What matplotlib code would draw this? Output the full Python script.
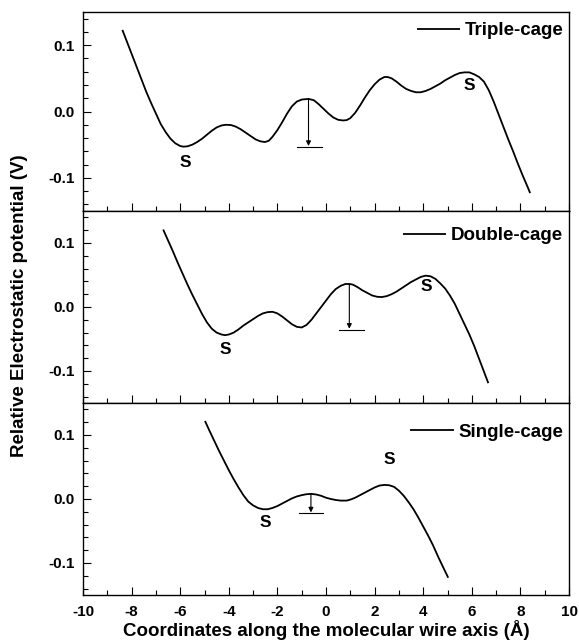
import matplotlib.pyplot as plt
from matplotlib.ticker import MultipleLocator, FormatStrFormatter

plt.rcParams['font.family'] = ['Liberation Sans', 'DejaVu Sans']
plt.rcParams['font.weight'] = 'bold'
plt.rcParams['axes.unicode_minus'] = False

# curves (x in Angstrom, potential in V)
triple_x = [-8.38, -8.2, -8.0, -7.8, -7.6, -7.4, -7.2, -7.0, -6.8, -6.6,
            -6.4, -6.2, -6.0, -5.87, -5.7, -5.5, -5.3, -5.1, -4.9, -4.7,
            -4.5, -4.3, -4.1, -3.9, -3.7, -3.5, -3.3, -3.1, -2.9, -2.7,
            -2.51, -2.35, -2.2, -2.0, -1.8, -1.6, -1.4, -1.2, -1.0, -0.72,
            -0.5, -0.3, -0.1, 0.1, 0.3, 0.5, 0.7, 0.85, 1.0, 1.2,
            1.4, 1.6, 1.8, 2.0, 2.2, 2.4, 2.54, 2.7, 2.9, 3.1,
            3.3, 3.5, 3.7, 3.9, 4.1, 4.3, 4.5, 4.7, 4.9, 5.1,
            5.3, 5.5, 5.7, 5.9, 6.1, 6.3, 6.5, 6.7, 6.9, 7.1,
            7.3, 7.5, 7.7, 7.9, 8.1, 8.3, 8.40]
triple_y = [0.123, 0.106, 0.087, 0.068, 0.049, 0.030, 0.013, -0.003, -0.019, -0.031,
            -0.041, -0.048, -0.052, -0.053, -0.0525, -0.050, -0.046, -0.041, -0.035, -0.029,
            -0.024, -0.021, -0.020, -0.0205, -0.023, -0.027, -0.032, -0.037, -0.042, -0.045,
            -0.046, -0.044, -0.038, -0.028, -0.016, -0.003, 0.008, 0.015, 0.018, 0.019,
            0.017, 0.011, 0.004, -0.003, -0.009, -0.0125, -0.0135, -0.013, -0.010, -0.002,
            0.009, 0.021, 0.032, 0.041, 0.048, 0.052, 0.052, 0.050, 0.045, 0.039,
            0.034, 0.031, 0.029, 0.029, 0.031, 0.034, 0.038, 0.042, 0.047, 0.051,
            0.055, 0.058, 0.059, 0.059, 0.056, 0.052, 0.045, 0.032, 0.015, -0.004,
            -0.023, -0.042, -0.060, -0.079, -0.097, -0.114, -0.123]

double_x = [-6.70, -6.5, -6.3, -6.1, -5.9, -5.7, -5.5, -5.3, -5.1, -4.9,
            -4.7, -4.5, -4.3, -4.16, -4.0, -3.8, -3.6, -3.4, -3.2, -3.0,
            -2.8, -2.6, -2.4, -2.2, -2.0, -1.8, -1.6, -1.4, -1.2, -1.0,
            -0.8, -0.6, -0.4, -0.2, 0.0, 0.2, 0.4, 0.6, 0.8, 0.96,
            1.1, 1.3, 1.5, 1.7, 1.9, 2.1, 2.3, 2.5, 2.7, 2.9,
            3.1, 3.3, 3.5, 3.7, 3.9, 4.1, 4.3, 4.5, 4.7, 4.9,
            5.1, 5.3, 5.5, 5.7, 5.9, 6.1, 6.3, 6.5, 6.68]
double_y = [0.121, 0.104, 0.087, 0.069, 0.052, 0.035, 0.019, 0.004, -0.011, -0.024,
            -0.034, -0.040, -0.043, -0.044, -0.043, -0.040, -0.035, -0.029, -0.024, -0.019,
            -0.014, -0.010, -0.008, -0.0075, -0.010, -0.015, -0.021, -0.027, -0.031, -0.032,
            -0.028, -0.020, -0.010, 0.000, 0.010, 0.020, 0.028, 0.033, 0.036, 0.036,
            0.035, 0.031, 0.026, 0.022, 0.018, 0.016, 0.0155, 0.017, 0.020, 0.024,
            0.029, 0.034, 0.039, 0.043, 0.047, 0.049, 0.048, 0.044, 0.037, 0.029,
            0.018, 0.005, -0.011, -0.027, -0.043, -0.061, -0.081, -0.101, -0.119]

single_x = [-4.98, -4.8, -4.6, -4.4, -4.2, -4.0, -3.8, -3.6, -3.4, -3.2,
            -3.0, -2.8, -2.6, -2.4, -2.2, -2.0, -1.8, -1.6, -1.4, -1.2,
            -1.0, -0.8, -0.6, -0.4, -0.2, 0.0, 0.2, 0.4, 0.6, 0.85,
            1.0, 1.2, 1.4, 1.6, 1.8, 2.0, 2.2, 2.4, 2.6, 2.8,
            3.0, 3.2, 3.4, 3.6, 3.8, 4.0, 4.2, 4.4, 4.6, 4.8, 5.03]
single_y = [0.122, 0.107, 0.091, 0.075, 0.060, 0.045, 0.031, 0.018, 0.006, -0.004,
            -0.010, -0.014, -0.016, -0.016, -0.014, -0.011, -0.007, -0.003, 0.001, 0.004,
            0.006, 0.0075, 0.008, 0.007, 0.005, 0.002, 0.000, -0.0015, -0.0025, -0.0025,
            -0.001, 0.002, 0.006, 0.010, 0.014, 0.018, 0.021, 0.022, 0.0215, 0.019,
            0.013, 0.005, -0.005, -0.016, -0.029, -0.043, -0.057, -0.072, -0.089, -0.105, -0.123]

names = ['Triple-cage', 'Double-cage', 'Single-cage']

# barrier arrows: x, peak, tip, bar y, bar left, bar right
arrow_x = [-0.72, 0.96, -0.62]
arrow_top = [0.019, 0.036, 0.008]
arrow_tip = [-0.052, -0.034, -0.021]
bar_y = [-0.054, -0.0365, -0.0226]
bar_left = [-1.18, 0.54, -1.10]
bar_right = [-0.18, 1.56, -0.11]

# "S" marks (x, y) per panel
s_marks = [[(-5.8, -0.077), (5.88, 0.039)],
           [(-4.16, -0.066), (4.14, 0.032)],
           [(-2.51, -0.036), (2.6, 0.062)]]

curves = [(triple_x, triple_y), (double_x, double_y), (single_x, single_y)]

fig = plt.figure(figsize=(5.79, 6.44), dpi=100)
left, width = 83 / 579, 486 / 579
boxes = [[left, 433 / 644, width, 199 / 644],
         [left, 241 / 644, width, 192 / 644],
         [left, 49 / 644, width, 192 / 644]]
legend_y = [0.906, 0.871, 0.847]

axes = []
for i, box in enumerate(boxes):
    ax = fig.add_axes(box)
    axes.append(ax)
    x, y = curves[i]
    ax.plot(x, y, color='black', lw=1.3, label=names[i],
            solid_joinstyle='round', solid_capstyle='butt')

    ax.annotate('', xy=(arrow_x[i], arrow_tip[i]), xytext=(arrow_x[i], arrow_top[i]),
                arrowprops=dict(arrowstyle='-|>', color='black', lw=0.8,
                                mutation_scale=7, shrinkA=0, shrinkB=0))
    ax.plot([bar_left[i], bar_right[i]], [bar_y[i], bar_y[i]], color='black', lw=0.8)

    for sx, sy in s_marks[i]:
        ax.text(sx, sy, 'S', fontsize=12.5, fontweight='bold', ha='center', va='center')

    ax.set_xlim(-10, 10)
    ax.set_ylim(-0.15, 0.15)
    ax.xaxis.set_major_locator(MultipleLocator(2))
    ax.xaxis.set_minor_locator(MultipleLocator(1))
    ax.yaxis.set_major_locator(MultipleLocator(0.1))
    ax.yaxis.set_minor_locator(MultipleLocator(0.02))
    ax.yaxis.set_major_formatter(FormatStrFormatter('%.1f'))
    ax.tick_params(which='both', direction='in', width=0.8, labelsize=11,
                   top=False, right=False)
    ax.tick_params(which='major', length=6)
    ax.tick_params(which='minor', length=3.5)
    ax.tick_params(axis='y', pad=6)
    ax.tick_params(axis='x', pad=7)
    for sp in ax.spines.values():
        sp.set_linewidth(1.0)
    if i < 2:
        ax.tick_params(axis='x', labelbottom=False)

    ax.legend(loc='center right', bbox_to_anchor=(0.988, legend_y[i]),
              frameon=False, borderaxespad=0, borderpad=0,
              handlelength=2.3, handletextpad=0.25,
              prop={'weight': 'bold', 'size': 13.5})

axes[2].set_xlabel('Coordinates along the molecular wire axis (\u00c5)',
                   fontsize=13.5, fontweight='bold', labelpad=1)
fig.text(0.034, 0.526, 'Relative Electrostatic potential (V)', rotation=90,
         ha='center', va='center', fontsize=13.5, fontweight='bold')

fig.savefig('out.png', dpi=100)
